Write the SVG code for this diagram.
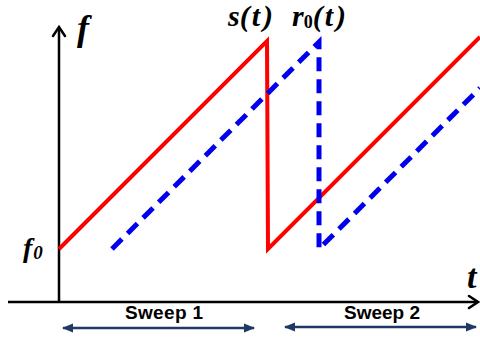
<svg xmlns="http://www.w3.org/2000/svg" width="480" height="341" viewBox="0 0 480 341">
<style>
.axis{stroke:#000;stroke-width:2.5;fill:none}
.head{stroke:#000;stroke-width:2.5;fill:none;stroke-linecap:round;stroke-linejoin:miter}
.red{stroke:#ff0000;stroke-width:4;fill:none;stroke-linejoin:miter}
.blue{stroke:#0000ee;stroke-width:5;fill:none;stroke-dasharray:14 8}
.math{font-family:'Liberation Serif',serif;font-style:italic;font-weight:bold;fill:#000}
.sweep{font-family:'Liberation Sans',sans-serif;font-weight:bold;font-size:19px;fill:#000;text-anchor:middle}
.span{stroke:#1f3864;stroke-width:2.5;fill:none}
</style>
<defs>
<marker id="ah" viewBox="0 0 10 10" refX="9" refY="5" markerWidth="4.5" markerHeight="4.5" orient="auto-start-reverse" markerUnits="strokeWidth">
<path d="M0,1 L10,5 L0,9 z" fill="#1f3864"/>
</marker>
</defs>
<g id="axes">
<line class="axis" x1="59" y1="303" x2="59" y2="28"/>
<path class="head" d="M53,36 L59,27 L65,36"/>
<line class="axis" x1="8" y1="302" x2="477" y2="302"/>
<path class="head" d="M469,296 L478,302 L469,308"/>
</g>
<g id="connectors">
<path id="s" class="red" d="M59,249 L267,41 L268,249 L480,37"/>
<path id="r0" class="blue" d="M112,249 L319,42 L319,249 L480,88"/>
<line class="span" x1="63" y1="328" x2="254" y2="328" marker-start="url(#ah)" marker-end="url(#ah)"/>
<line class="span" x1="285" y1="327" x2="476" y2="327" marker-start="url(#ah)" marker-end="url(#ah)"/>
</g>
<g id="labels">
<text class="math" x="77" y="40" font-size="36">f</text>
<text class="math" x="228" y="26" font-size="30">s(<tspan dx="2">t</tspan><tspan dx="3">)</tspan></text>
<text class="math" x="292" y="26" font-size="30">r<tspan font-size="18" font-style="normal" dy="2">0</tspan><tspan dy="-2">(</tspan><tspan dx="2">t</tspan><tspan dx="3">)</tspan></text>
<text class="math" x="23" y="257" font-size="28">f<tspan font-size="19" dx="1" dy="2">0</tspan></text>
<text class="math" x="467" y="288" font-size="34">t</text>
<text class="sweep" x="164" y="319" textLength="78">Sweep 1</text>
<text class="sweep" x="382" y="319" textLength="76">Sweep 2</text>
</g>
</svg>
